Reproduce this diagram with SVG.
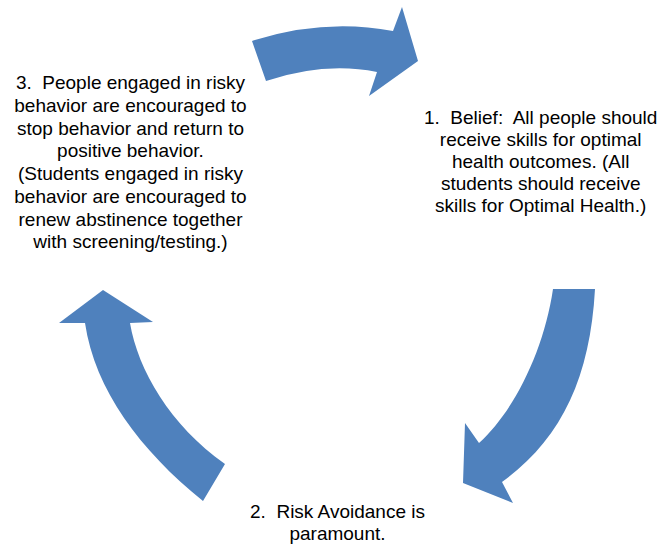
<svg xmlns="http://www.w3.org/2000/svg" width="668" height="544" viewBox="0 0 668 544">
  <style>
    .arrow { fill: #4f81bd; stroke: none; }
    .label { font-family: "Liberation Sans", Arial, sans-serif; font-size: 19px; fill: #000; text-anchor: middle; white-space: pre; }
  </style>
  <rect width="668" height="544" fill="#ffffff"/>

  <!-- curved block arrows forming the cycle -->
  <g id="connectors">
    <path id="arrow-3-to-1" class="arrow" d="M 252,41 Q 323.5,18 393,31 L 402,7 L 418,61 L 369,96 L 377,72 Q 324.5,61.5 266,81 Z"/>
    <path id="arrow-1-to-2" class="arrow" d="M 553,289 L 595,289 C 590,380 560,440 502,482 L 513,503 L 463,483 L 465,423 L 479,443 C 515,410 544,350 553,289 Z"/>
    <path id="arrow-2-to-3" class="arrow" d="M 103,290 L 153,322 L 130,323 C 138,370 170,425 225,464 L 203,501 C 140,450 95,390 85,323 L 59,323 Z"/>
  </g>

  <g id="node-1">
    <text class="label" x="540.7" y="124.3">1.  Belief:  All people should</text>
    <text class="label" x="540.7" y="146.3">receive skills for optimal</text>
    <text class="label" x="540.7" y="168.3">health outcomes. (All</text>
    <text class="label" x="540.7" y="190.3">students should receive</text>
    <text class="label" x="540.7" y="212.3">skills for Optimal Health.)</text>
  </g>

  <g id="node-2">
    <text class="label" x="337.5" y="518">2.  Risk Avoidance is</text>
    <text class="label" x="337.5" y="540">paramount.</text>
  </g>

  <g id="node-3">
    <text class="label" x="130.5" y="89.3">3.  People engaged in risky</text>
    <text class="label" x="130.5" y="112">behavior are encouraged to</text>
    <text class="label" x="130.5" y="134.7">stop behavior and return to</text>
    <text class="label" x="130.5" y="157.4">positive behavior.</text>
    <text class="label" x="130.5" y="180.1">(Students engaged in risky</text>
    <text class="label" x="130.5" y="202.8">behavior are encouraged to</text>
    <text class="label" x="130.5" y="225.5">renew abstinence together</text>
    <text class="label" x="130.5" y="248.2">with screening/testing.)</text>
  </g>
</svg>
